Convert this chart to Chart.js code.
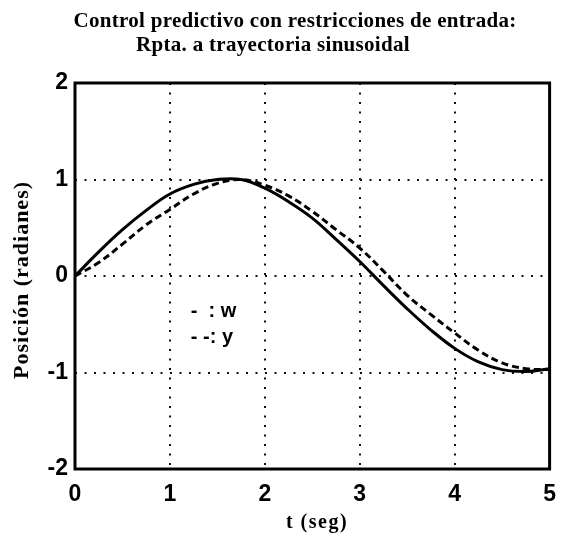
<!DOCTYPE html>
<html>
<head>
<meta charset="utf-8">
<script src="https://cdn.jsdelivr.net/npm/chart.js@4"></script>
<style>
  body { margin: 0; background: #fff; }
  #wrap { width: 568px; height: 540px; }
</style>
</head>
<body>
<div id="wrap"><canvas id="chart" width="568" height="540"></canvas></div>
<script>
// data
const tVals = [0, 0.25, 0.5, 0.75, 1, 1.25, 1.5, 1.75, 2, 2.25, 2.5, 2.75, 3, 3.25, 3.5, 3.75, 4, 4.25, 4.5, 4.75, 5];
const wVals = [0, 0.25, 0.48, 0.68, 0.85, 0.95, 1.0, 1.0, 0.91, 0.77, 0.6, 0.38, 0.15, -0.1, -0.34, -0.56, -0.75, -0.89, -0.97, -0.99, -0.96];
const yVals = [0, 0.14, 0.33, 0.53, 0.69, 0.85, 0.96, 1.0, 0.94, 0.83, 0.67, 0.48, 0.29, 0.05, -0.2, -0.4, -0.59, -0.77, -0.9, -0.96, -0.97];
const xTicks = [0, 1, 2, 3, 4, 5];
const yTicks = [-2, -1, 0, 1, 2];
const titleLines = ['Control predictivo con restricciones de entrada:', 'Rpta. a trayectoria sinusoidal'];
const xTitle = 't (seg)';
const yTitle = 'Posición (radianes)';
const legendItems = [{ mark: '-  : ', name: 'w' }, { mark: '- -: ', name: 'y' }];

const serif = '"Liberation Serif", "DejaVu Serif", serif';
const sans = '"Liberation Sans", Arial, sans-serif';

const toPoints = vals => tVals.map((t, i) => ({ x: t, y: vals[i] }));

// titles, box and the little text legend
const decor = {
    id: 'decor',
    afterDraw(chart) {
        const ctx = chart.ctx;
        const a = chart.chartArea;
        const xs = chart.scales.x, ys = chart.scales.y;
        ctx.save();
        ctx.strokeStyle = '#000';
        ctx.lineWidth = 3;
        ctx.strokeRect(a.left, a.top, a.right - a.left, a.bottom - a.top);

        ctx.fillStyle = '#000';
        ctx.textAlign = 'center';
        ctx.textBaseline = 'middle';
        ctx.font = 'bold 21px ' + serif;
        ctx.letterSpacing = '0.3px';
        ctx.fillText(titleLines[0], 295, 22);
        ctx.fillText(titleLines[1], 273, 46);

        ctx.font = 'bold 20px ' + serif;
        ctx.letterSpacing = '1.5px';
        ctx.fillText(xTitle, 317, 523);

        ctx.save();
        ctx.font = 'bold 22px ' + serif;
        ctx.letterSpacing = '1px';
        ctx.translate(22, 280);
        ctx.rotate(-Math.PI / 2);
        ctx.fillText(yTitle, 0, 0);
        ctx.restore();

        ctx.textAlign = 'left';
        ctx.letterSpacing = '0px';
        ctx.font = 'bold 20px ' + sans;
        legendItems.forEach((it, i) => {
            const px = xs.getPixelForValue(1.22);
            const py = ys.getPixelForValue(-0.37 - i * 0.27);
            ctx.fillText(it.mark + it.name, px, py);
        });
        ctx.restore();
    }
};

const gridStyle = {
    color: '#111',
    lineWidth: 2,
    drawTicks: false
};
const dotted = { display: false, dash: [2, 7.5] };

new Chart(document.getElementById('chart').getContext('2d'), {
    type: 'line',
    data: {
        datasets: [
            {
                label: 'w',
                data: toPoints(wVals),
                borderColor: '#000',
                borderWidth: 3,
                pointRadius: 0,
                tension: 0.4,
                fill: false
            },
            {
                label: 'y',
                data: toPoints(yVals),
                borderColor: '#000',
                borderWidth: 3,
                borderDash: [7, 4],
                pointRadius: 0,
                tension: 0.4,
                fill: false
            }
        ]
    },
    options: {
        responsive: false,
        animation: false,
        layout: { padding: { top: 83, right: 13, left: 0, bottom: 0 } },
        plugins: {
            legend: { display: false },
            title: { display: false },
            tooltip: { enabled: false }
        },
        scales: {
            x: {
                type: 'linear',
                min: 0,
                max: 5,
                afterFit(scale) { scale.height = 71; },
                afterBuildTicks(scale) { scale.ticks = xTicks.map(v => ({ value: v })); },
                border: dotted,
                grid: gridStyle,
                ticks: {
                    padding: 12,
                    color: '#000',
                    font: { family: sans, weight: 'bold', size: 23 }
                }
            },
            y: {
                min: -2,
                max: 2,
                afterFit(scale) { scale.width = 75; },
                afterBuildTicks(scale) { scale.ticks = yTicks.map(v => ({ value: v })); },
                border: dotted,
                grid: gridStyle,
                ticks: {
                    padding: 7,
                    color: '#000',
                    font: { family: sans, weight: 'bold', size: 23 }
                }
            }
        }
    },
    plugins: [decor]
});
</script>
</body>
</html>
